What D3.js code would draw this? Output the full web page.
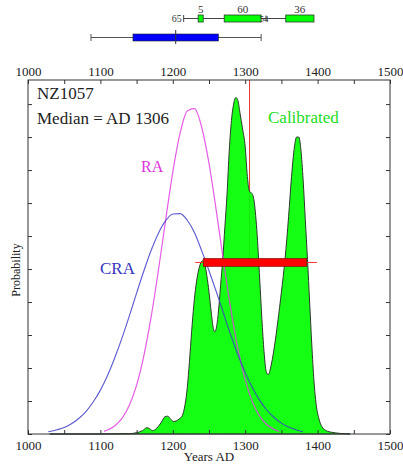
<!DOCTYPE html>
<html>
<head>
<meta charset="utf-8">
<script src="https://cdn.jsdelivr.net/npm/d3@7"></script>
<style>
  html, body { margin: 0; padding: 0; background: #fff; }
  svg { display: block; font-family: "Liberation Serif", "Times New Roman", serif; }
</style>
</head>
<body>
<script>
// ---------- data ----------
const xTickValues = [1000, 1050, 1100, 1150, 1200, 1250, 1300, 1350, 1400, 1450, 1500];
const yTickValues = [0, 0.1, 0.2, 0.3, 0.4, 0.5, 0.6, 0.7, 0.8, 0.9, 1.0];

const raYears = [1105, 1110, 1120, 1130, 1140, 1150, 1160, 1170, 1180, 1190, 1200, 1210, 1220, 1230, 1240, 1250, 1260, 1270, 1280, 1290, 1300, 1310, 1320, 1330, 1340, 1347];
const raProb  = [0.008, 0.012, 0.025, 0.048, 0.087, 0.148, 0.237, 0.354, 0.494, 0.647, 0.794, 0.911, 0.979, 0.986, 0.929, 0.820, 0.678, 0.525, 0.380, 0.258, 0.164, 0.097, 0.054, 0.028, 0.014, 0.008];

const craYears = [1028, 1040, 1050, 1060, 1070, 1080, 1090, 1100, 1110, 1120, 1130, 1140, 1150, 1160, 1170, 1180, 1190, 1200, 1210, 1220, 1230, 1240, 1250, 1260, 1270, 1280, 1290, 1300, 1310, 1320, 1330, 1340, 1350, 1360, 1370, 1380];
const craProb  = [0.007, 0.013, 0.020, 0.031, 0.047, 0.068, 0.097, 0.133, 0.178, 0.232, 0.292, 0.358, 0.427, 0.494, 0.556, 0.608, 0.646, 0.667, 0.668, 0.648, 0.610, 0.555, 0.495, 0.432, 0.366, 0.300, 0.240, 0.186, 0.140, 0.102, 0.072, 0.050, 0.033, 0.021, 0.013, 0.007];

const calYears = [1030, 1100, 1140, 1150, 1158, 1164, 1168, 1172, 1178, 1184, 1189, 1193, 1197, 1201, 1205, 1209, 1213, 1217, 1220, 1223, 1226, 1229, 1232, 1235, 1238, 1241, 1244, 1247, 1250, 1253, 1256, 1258, 1260, 1263, 1266, 1269, 1272, 1275, 1278, 1281, 1284, 1287, 1290, 1293, 1296, 1300, 1303, 1306, 1309, 1312, 1316, 1320, 1323, 1326, 1329, 1332, 1335, 1340, 1345, 1350, 1355, 1360, 1364, 1368, 1371, 1374, 1377, 1380, 1383, 1386, 1389, 1392, 1395, 1398, 1402, 1406, 1412, 1420, 1430, 1445];
const calProb  = [0, 0, 0.001, 0.004, 0.010, 0.019, 0.016, 0.010, 0.018, 0.035, 0.052, 0.054, 0.045, 0.038, 0.040, 0.046, 0.055, 0.090, 0.140, 0.220, 0.310, 0.390, 0.450, 0.490, 0.515, 0.525, 0.515, 0.480, 0.430, 0.370, 0.320, 0.310, 0.320, 0.370, 0.450, 0.530, 0.630, 0.730, 0.860, 0.950, 1.000, 1.020, 1.010, 0.970, 0.930, 0.870, 0.780, 0.735, 0.730, 0.710, 0.620, 0.470, 0.350, 0.250, 0.190, 0.180, 0.200, 0.260, 0.340, 0.430, 0.530, 0.660, 0.780, 0.870, 0.900, 0.900, 0.860, 0.770, 0.650, 0.530, 0.400, 0.270, 0.160, 0.090, 0.045, 0.022, 0.010, 0.005, 0.002, 0];

const medianYear = 1306;
const barLevel = 0.52;
const rangeLine = [1231, 1399];
const rangeBar = [1242, 1385];

// top summary rows
const calRangeStarts = [1235, 1271, 1356];
const calRangeEnds   = [1242, 1322, 1395];
const calRangeLabels = ["5", "60", "36"];
const calWhisker = [1215, 1395];
const calLeftLabel = "65";
const calSmallLabel = "54";
const calSmallYear = 1326;

const craWhisker = [1087, 1322];
const craBox = [1145, 1263];
const craMedian = 1204;

// ---------- drawing ----------
const W = 403, H = 465;
const svg = d3.select("body").append("svg").attr("width", W).attr("height", H);

const L = 28, R = 390, T = 80, B = 434;
const x = d3.scaleLinear().domain([1000, 1500]).range([L, R]);
const y = d3.scaleLinear().domain([0, 1.073]).range([B, T]);

const calData = calYears.map((d, i) => [d, calProb[i]]);
const raData = raYears.map((d, i) => [d, raProb[i]]);
const craData = craYears.map((d, i) => [d, craProb[i]]);

// median line (under green)
svg.append("line")
  .attr("x1", x(medianYear)).attr("x2", x(medianYear))
  .attr("y1", T).attr("y2", y(barLevel))
  .attr("stroke", "#ee3333").attr("stroke-width", 1);

// calibrated area
svg.append("path")
  .datum(calData)
  .attr("d", d3.area().x(d => x(d[0])).y0(y(0)).y1(d => y(d[1])).curve(d3.curveMonotoneX))
  .attr("fill", "#00ff00").attr("fill-opacity", 0.92)
  .attr("stroke", "#2a3a2a").attr("stroke-width", 1);

// RA & CRA curves
const line = d3.line().x(d => x(d[0])).y(d => y(d[1])).curve(d3.curveMonotoneX);
svg.append("path").datum(raData).attr("d", line)
  .attr("fill", "none").attr("stroke", "#e040e0").attr("stroke-width", 1.2).attr("stroke-opacity", 0.85);
svg.append("path").datum(craData).attr("d", line)
  .attr("fill", "none").attr("stroke", "#3c3cc8").attr("stroke-width", 1.1).attr("stroke-opacity", 0.85);

// range line and bar
svg.append("line")
  .attr("x1", x(rangeLine[0])).attr("x2", x(rangeLine[1]))
  .attr("y1", y(barLevel)).attr("y2", y(barLevel))
  .attr("stroke", "#ff3030").attr("stroke-width", 1);
svg.append("rect")
  .attr("x", x(rangeBar[0])).attr("width", x(rangeBar[1]) - x(rangeBar[0]))
  .attr("y", y(barLevel) - 4).attr("height", 8)
  .attr("fill", "#ff0000").attr("stroke", "#700").attr("stroke-width", 0.6);

// axes
const xb = d3.axisBottom(x).tickValues(xTickValues).tickSize(-4).tickPadding(7)
  .tickFormat(d => d % 100 === 0 ? d : "");
const xt = d3.axisTop(x).tickValues(xTickValues).tickSize(-4).tickPadding(4)
  .tickFormat(d => d % 100 === 0 ? d : "");
const yl = d3.axisLeft(y).tickValues(yTickValues).tickSize(-4).tickFormat("");
const yr = d3.axisRight(y).tickValues(yTickValues).tickSize(-4).tickFormat("");

function style(g) {
  g.select(".domain").remove();
  g.selectAll(".tick line").attr("stroke", "#333");
  g.selectAll(".tick text").attr("fill", "#222").style("font-size", "13px")
    .style("font-family", "'Liberation Serif', serif");
}
svg.append("g").attr("transform", `translate(0,${B})`).call(xb).call(style);
svg.append("g").attr("transform", `translate(0,${T})`).call(xt).call(style);
svg.append("g").attr("transform", `translate(${L},0)`).call(yl).call(style);
svg.append("g").attr("transform", `translate(${R},0)`).call(yr).call(style);

// frame
svg.append("rect").attr("x", L).attr("y", T).attr("width", R - L).attr("height", B - T)
  .attr("fill", "none").attr("stroke", "#333").attr("stroke-width", 1);

// axis titles
svg.append("text").attr("x", (L + R) / 2).attr("y", 461).attr("text-anchor", "middle")
  .style("font-size", "13px").attr("fill", "#222").text("Years AD");
svg.append("text").attr("transform", "translate(20,270) rotate(-90)").attr("text-anchor", "middle")
  .style("font-size", "12px").attr("fill", "#222").text("Probability");

// annotations
svg.append("text").attr("x", 37).attr("y", 99).style("font-size", "17px").attr("fill", "#222").text("NZ1057");
svg.append("text").attr("x", 37).attr("y", 124).style("font-size", "17px").attr("fill", "#222").text("Median = AD 1306");
svg.append("text").attr("x", 141).attr("y", 172).style("font-size", "16px").attr("fill", "#dd33dd").text("RA");
svg.append("text").attr("x", 100).attr("y", 274).style("font-size", "17px").attr("fill", "#3535c0").text("CRA");
svg.append("text").attr("x", 268).attr("y", 123).style("font-size", "17px").attr("fill", "#22dd22").text("Calibrated");

// top calibrated ranges row
const cy = 18.5;
svg.append("line").attr("x1", x(calWhisker[0])).attr("x2", x(calWhisker[1]))
  .attr("y1", cy).attr("y2", cy).attr("stroke", "#444").attr("stroke-width", 1);
svg.append("line").attr("x1", x(calWhisker[0])).attr("x2", x(calWhisker[0]))
  .attr("y1", cy - 3.5).attr("y2", cy + 3.5).attr("stroke", "#444");
svg.append("text").attr("x", x(calWhisker[0]) - 2).attr("y", cy + 3.5).attr("text-anchor", "end")
  .style("font-size", "10px").attr("fill", "#333").text(calLeftLabel);
svg.selectAll("rect.calr").data(calRangeStarts).enter().append("rect")
  .attr("class", "calr")
  .attr("x", d => x(d)).attr("width", (d, i) => x(calRangeEnds[i]) - x(d))
  .attr("y", cy - 3.5).attr("height", 7)
  .attr("fill", "#00ff00").attr("stroke", "#2a3a2a").attr("stroke-width", 0.8);
svg.selectAll("text.calr").data(calRangeStarts).enter().append("text")
  .attr("class", "calr")
  .attr("x", (d, i) => (x(d) + x(calRangeEnds[i])) / 2).attr("y", cy - 6)
  .attr("text-anchor", "middle").style("font-size", "11px").attr("fill", "#333")
  .text((d, i) => calRangeLabels[i]);
svg.append("text").attr("x", x(calSmallYear)).attr("y", cy + 3.5).attr("text-anchor", "middle")
  .style("font-size", "9px").attr("fill", "#333").text(calSmallLabel);
svg.append("line").attr("x1", x(calSmallYear) + 2).attr("x2", x(calSmallYear) + 2)
  .attr("y1", cy - 3).attr("y2", cy + 3).attr("stroke", "#444");

// top CRA box row
const by = 37.5;
svg.append("line").attr("x1", x(craWhisker[0])).attr("x2", x(craWhisker[1]))
  .attr("y1", by).attr("y2", by).attr("stroke", "#555").attr("stroke-width", 1);
craWhisker.forEach(w => svg.append("line").attr("x1", x(w)).attr("x2", x(w))
  .attr("y1", by - 3.5).attr("y2", by + 3.5).attr("stroke", "#555"));
svg.append("rect").attr("x", x(craBox[0])).attr("width", x(craBox[1]) - x(craBox[0]))
  .attr("y", by - 3.5).attr("height", 7)
  .attr("fill", "#0000ff").attr("stroke", "#222").attr("stroke-width", 0.6);
svg.append("line").attr("x1", x(craMedian)).attr("x2", x(craMedian))
  .attr("y1", by - 7.5).attr("y2", by + 6.5).attr("stroke", "#333").attr("stroke-width", 1);
</script>
</body>
</html>
